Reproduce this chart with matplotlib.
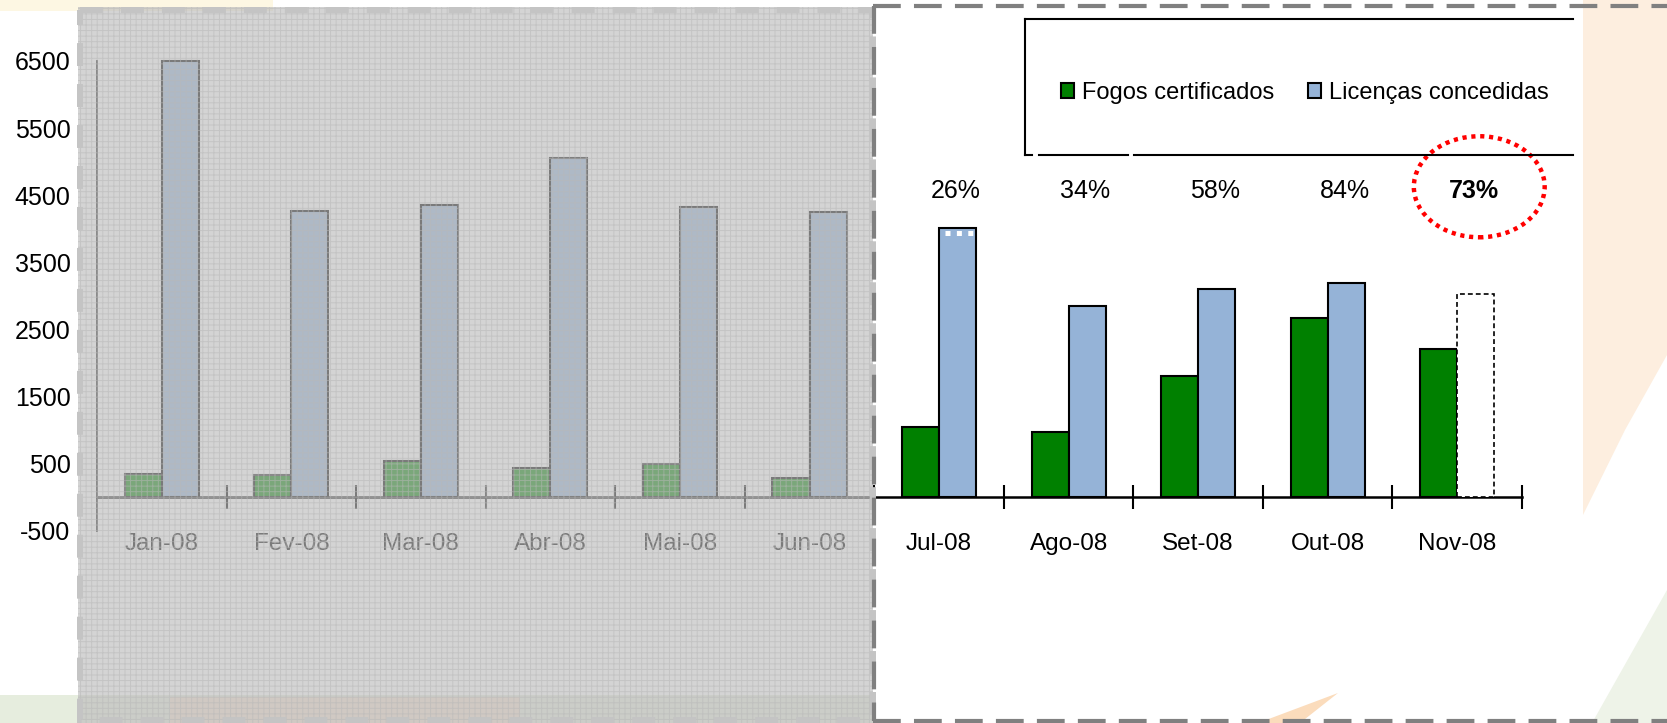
import matplotlib
matplotlib.use("Agg")
import matplotlib.pyplot as plt
from matplotlib.patches import Rectangle, Ellipse, Polygon
from matplotlib.lines import Line2D
import numpy as np

plt.rcParams['font.family'] = ['Liberation Sans', 'DejaVu Sans']
plt.rcParams['lines.scale_dashes'] = False
plt.rcParams['hatch.linewidth'] = 0.7
plt.rcParams['axes.unicode_minus'] = False

# ---- data -----------------------------------------------------------------
months = ["Jan-08", "Fev-08", "Mar-08", "Abr-08", "Mai-08", "Jun-08",
          "Jul-08", "Ago-08", "Set-08", "Out-08", "Nov-08"]
fogos_certificados = [350, 330, 550, 440, 495, 295, 1045, 975, 1810, 2670, 2213]
licencas_concedidas = [6500, 4270, 4360, 5050, 4330, 4250, 4015, 2845, 3105, 3195, 3025]
yticks = [-500, 500, 1500, 2500, 3500, 4500, 5500, 6500]
series_names = ["Fogos certificados", "Licenças concedidas"]
first_shown = "Jul-08"      # months before this one sit under the grey panel
provisional = "Nov-08"      # licence count still open: dashed outline, bold ratio

# ---- figure ---------------------------------------------------------------
W, H = 1667, 723
fig = plt.figure(figsize=(W / 100, H / 100), dpi=100)
fig.patch.set_facecolor('white')

def pixel_axes(z):
    a = fig.add_axes([0, 0, 1, 1], zorder=z)
    a.set_xlim(0, W)
    a.set_ylim(H, 0)
    a.axis('off')
    return a

# slide background decorations
bg = pixel_axes(0)
bg.add_patch(Rectangle((0, 0), 273, 11, color='#fdf7e3', lw=0))
bg.add_patch(Polygon([(1583, 0), (1667, 0), (1667, 355), (1625, 430), (1583, 515)],
                     closed=True, color='#fdeedf', lw=0))
bg.add_patch(Rectangle((0, 695), 873, 28, color='#e6edde', lw=0))
bg.add_patch(Rectangle((170, 697), 350, 26, color='#f4e2cf', lw=0))
bg.add_patch(Polygon([(1258, 723), (1338, 693), (1300, 723)], closed=True,
                     color='#fbdcbc', lw=0))
bg.add_patch(Polygon([(1592, 723), (1667, 590), (1667, 723)], closed=True,
                     color='#eef3e8', lw=0))

# ---- main chart -----------------------------------------------------------
ax = fig.add_axes([97 / W, 1 - 531 / H, (1522 - 97) / W, (531 - 61) / H], zorder=1)
ax.set_facecolor('none')

x = np.arange(len(months))
fogos = np.array(fogos_certificados)
lic = np.array(licencas_concedidas)
bw = 0.286
green, blue = '#008000', '#95B3D7'

solid = np.array([m != provisional for m in months])
b1 = ax.bar(x - bw / 2, fogos, bw, color=green, edgecolor='black', lw=1.5,
            zorder=3, clip_on=False)
b2 = ax.bar(x[solid] + bw / 2, lic[solid], bw, color=blue, edgecolor='black',
            lw=1.5, zorder=3, clip_on=False)
ax.bar(x[~solid] + bw / 2, lic[~solid], bw, facecolor='white', edgecolor='black',
       lw=1.2, linestyle=(0, (3.5, 2.2)), zorder=4, clip_on=False)

# small white dotted trim at the top of the July licence bar
j = months.index("Jul-08")
ax.plot([j + 0.045, j + bw - 0.02], [lic[j] - 70] * 2, color='white', lw=3.6,
        linestyle=(0, (3.6, 4.6)), zorder=5, solid_capstyle='butt')

ax.set_xlim(-0.5, len(months) - 0.5)
ax.set_ylim(-500, 6500)
for s in ('top', 'right'):
    ax.spines[s].set_visible(False)
ax.spines['bottom'].set_position(('data', 0))
ax.spines['bottom'].set_linewidth(1.8)
ax.spines['left'].set_linewidth(1.3)

ax.set_yticks(yticks)
ax.tick_params(axis='y', length=0, pad=19, labelsize=18)

ax.set_xticks(x + 0.5)
ax.set_xticks(x, minor=True)
ax.set_xticklabels(months, minor=True)
ax.tick_params(axis='x', which='major', direction='inout', length=17, width=1.5,
               labelbottom=False)
ax.tick_params(axis='x', which='minor', length=0, pad=25.5, labelsize=17.5)

# fire/licence ratio above each shown month
start = months.index(first_shown)
for i in range(start, len(months)):
    pct = round(100 * fogos[i] / lic[i])
    bold = months[i] == provisional
    ax.text(i + 0.13, 4570, f"{pct}%", ha='center', va='center', fontsize=18,
            fontweight='bold' if bold else 'normal', zorder=6)
k = months.index(provisional)
ax.add_patch(Ellipse((k + 0.17, 4627), 1.01, 1505, fill=False, edgecolor='#ff0000',
                     lw=3.2, linestyle=(0, (3.0, 3.4)), clip_on=False, zorder=6))

# ---- foreground: grey panel over the first half-year, borders, legend box --
ov = pixel_axes(2)
ov.add_patch(Rectangle((78, 7), 795, 716, facecolor=(189 / 255,) * 3, alpha=0.65, lw=0))
ov.add_patch(Rectangle((78, 7), 795, 716, facecolor='none', hatch='+++',
                       edgecolor=(0.72, 0.72, 0.72, 0.55), lw=0))
ov.add_patch(Rectangle((80, 10), 793, 710, fill=False, edgecolor='#c4c4c4', lw=4.3,
                       linestyle=(0, (16.5, 13))))

dash_dark = dict(color='#808080', lw=3.0, linestyle=(0, (20, 9.5)))
ov.add_line(Line2D([873, W + 10], [6, 6], **dash_dark))
ov.add_line(Line2D([873, W + 10], [721, 721], **dash_dark))
ov.add_line(Line2D([874, 874], [6, 721], **dash_dark))

box = dict(color='black', lw=1.5)
ov.add_line(Line2D([1025, 1573], [19, 19], **box))
ov.add_line(Line2D([1025, 1025], [19, 155], **box))
ov.add_line(Line2D([1025, 1032], [155, 155], **box))
ov.add_line(Line2D([1039, 1128], [155, 155], **box))
ov.add_line(Line2D([1134, 1573], [155, 155], **box))

fig.legend(handles=[b1, b2], labels=series_names, loc='center',
           bbox_to_anchor=(1305 / W, 1 - 93 / H), ncol=2, frameon=False,
           fontsize=17, handlelength=0.55, handleheight=0.6, handletextpad=0.35,
           columnspacing=1.4, borderpad=0)

fig.savefig("out.png", dpi=100)
